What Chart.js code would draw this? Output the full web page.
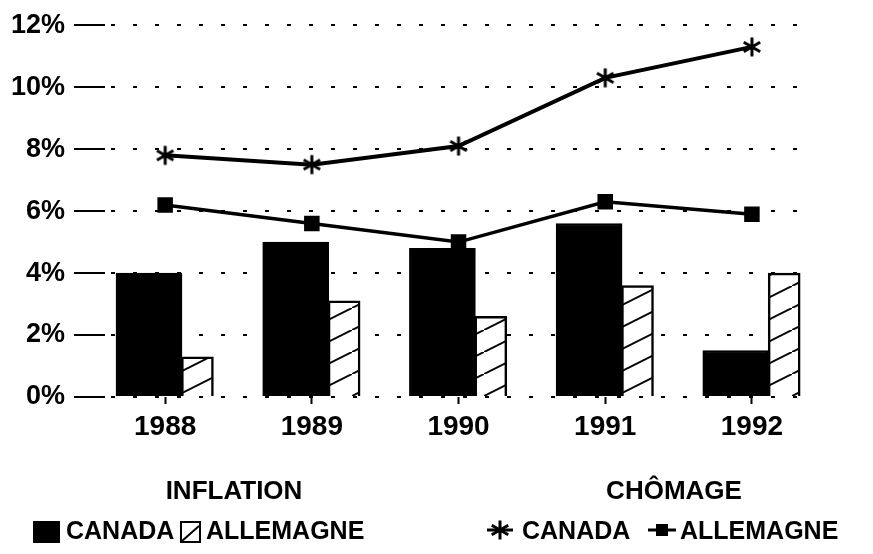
<!DOCTYPE html>
<html lang="fr">
<head>
<meta charset="utf-8">
<title>Inflation et chômage : Canada et Allemagne, 1988-1992</title>
<script src="https://cdn.jsdelivr.net/npm/chart.js@4.4.1/dist/chart.umd.min.js"></script>
<style>
	html, body { margin: 0; padding: 0; background: #fff; }
	#cadre { position: relative; width: 873px; height: 554px; }
</style>
</head>
<body>
<div id="cadre"><canvas id="graphique"></canvas></div>
<script>
const annees = ['1988', '1989', '1990', '1991', '1992'];
const inflationCanada = [4.0, 5.0, 4.8, 5.6, 1.5];
const inflationAllemagne = [1.3, 3.1, 2.6, 3.6, 4.0];
const chomageCanada = [7.8, 7.5, 8.1, 10.3, 11.3];
const chomageAllemagne = [6.2, 5.6, 5.0, 6.3, 5.9];
const graduations = [0, 2, 4, 6, 8, 10, 12];
const groupes = ['INFLATION', 'CHÔMAGE'];

const POLICE = '"Liberation Sans", Arial, Helvetica, sans-serif';

// les barres noires sont larges et décalées à gauche de l'année, les hachurées à droite
const decalageNoir = -0.11;
const decalageHachure = 0.22;

function hachures() {
	const c = document.createElement('canvas');
	c.width = 44;
	c.height = 22;
	const g = c.getContext('2d');
	g.fillStyle = '#fff';
	g.fillRect(0, 0, 44, 22);
	g.strokeStyle = '#000';
	g.lineWidth = 2;
	g.beginPath();
	g.moveTo(-4, 24);
	g.lineTo(48, -2);
	g.stroke();
	return g.createPattern(c, 'repeat');
}

// astérisque à six branches pour le Canada
function etoile(taille) {
	const c = document.createElement('canvas');
	c.width = taille;
	c.height = taille;
	const g = c.getContext('2d');
	const m = taille / 2;
	const r = taille / 2 - 1.5;
	g.strokeStyle = '#000';
	g.lineWidth = 3;
	g.beginPath();
	for (let k = 0; k < 3; k++) {
		const a = Math.PI / 2 + k * Math.PI / 3;
		g.moveTo(m + r * Math.cos(a), m + r * Math.sin(a));
		g.lineTo(m - r * Math.cos(a), m - r * Math.sin(a));
	}
	g.stroke();
	return c;
}

const motif = hachures();
const imageEtoile = etoile(22);

const legendeDouble = {
	id: 'legendeDouble',
	afterDraw(chart) {
		const ctx = chart.ctx;
		const ds = chart.data.datasets;
		ctx.save();
		ctx.fillStyle = '#000';
		ctx.strokeStyle = '#000';
		ctx.textBaseline = 'middle';

		ctx.font = 'bold 26px ' + POLICE;
		ctx.textAlign = 'center';
		ctx.fillText(groupes[0], 234, 492);
		ctx.fillText(groupes[1], 674, 492);

		ctx.font = 'bold 25px ' + POLICE;
		ctx.textAlign = 'left';
		const y = 532;

		// inflation : carré noir, carré hachuré
		ctx.fillRect(33, y - 11, 27, 22);
		ctx.fillText(ds[2].label, 66, y);
		ctx.fillStyle = '#fff';
		ctx.fillRect(181, y - 10, 19, 20);
		ctx.lineWidth = 2;
		ctx.strokeRect(181, y - 10, 19, 20);
		ctx.beginPath();
		ctx.moveTo(182, y + 9);
		ctx.lineTo(199, y - 6);
		ctx.stroke();
		ctx.fillStyle = '#000';
		ctx.fillText(ds[3].label, 206, y);

		// chômage : étoile, trait avec carré
		ctx.lineWidth = 3;
		ctx.beginPath();
		ctx.moveTo(487, y - 2);
		ctx.lineTo(513, y - 2);
		ctx.stroke();
		ctx.drawImage(imageEtoile, 489, y - 13);
		ctx.fillText(ds[0].label, 522, y);
		ctx.beginPath();
		ctx.moveTo(648, y - 2);
		ctx.lineTo(676, y - 2);
		ctx.stroke();
		ctx.fillRect(656, y - 8, 12, 12);
		ctx.fillText(ds[1].label, 680, y);
		ctx.restore();
	}
};

const config = {
	data: {
		datasets: [
			{
				type: 'line',
				label: 'CANADA',
				data: chomageCanada.map((v, i) => ({ x: i, y: v })),
				borderColor: '#000',
				borderWidth: 4,
				pointStyle: imageEtoile,
				pointRadius: 11,
				order: 1,
			},
			{
				type: 'line',
				label: 'ALLEMAGNE',
				data: chomageAllemagne.map((v, i) => ({ x: i, y: v })),
				borderColor: '#000',
				backgroundColor: '#000',
				borderWidth: 3.5,
				pointStyle: 'rect',
				pointRadius: 8.5,
				order: 1,
			},
			{
				type: 'bar',
				label: 'CANADA',
				data: inflationCanada.map((v, i) => ({ x: i + decalageNoir, y: v })),
				backgroundColor: '#000',
				borderColor: '#000',
				borderWidth: 2,
				barThickness: 66,
				grouped: false,
				order: 2,
			},
			{
				type: 'bar',
				label: 'ALLEMAGNE',
				data: inflationAllemagne.map((v, i) => ({ x: i + decalageHachure, y: v })),
				backgroundColor: motif,
				borderColor: '#000',
				borderWidth: 2.5,
				barThickness: 32,
				grouped: false,
				order: 2,
			},
		],
	},
	options: {
		responsive: true,
		maintainAspectRatio: false,
		animation: false,
		layout: {
			padding: { left: 0, top: 19, right: 58, bottom: 107 },
		},
		plugins: {
			legend: { display: false },
			tooltip: { enabled: false },
		},
		scales: {
			x: {
				type: 'linear',
				min: -0.41,
				max: 4.43,
				offset: false,
				afterBuildTicks: (scale) => {
					scale.ticks = annees.map((a, i) => ({ value: i }));
				},
				afterFit: (scale) => {
					scale.height = 50;
				},
				ticks: {
					callback: (v) => annees[v],
					color: '#000',
					font: { family: POLICE, size: 28, weight: 'bold' },
					padding: 6,
					maxRotation: 0,
					autoSkip: false,
				},
				grid: {
					offset: false,
					drawOnChartArea: false,
					tickLength: 7,
					tickWidth: 2,
					tickColor: '#000',
				},
				border: { display: false },
			},
			y: {
				min: 0,
				max: 12,
				afterBuildTicks: (scale) => {
					scale.ticks = graduations.map((v) => ({ value: v }));
				},
				afterFit: (scale) => {
					scale.width = 105;
				},
				ticks: {
					callback: (v) => v + '%',
					color: '#000',
					font: { family: POLICE, size: 27, weight: 'bold' },
					padding: 9,
				},
				grid: {
					color: '#000',
					lineWidth: 2,
					tickLength: 31,
					tickWidth: 2,
					tickColor: '#000',
					tickBorderDash: [],
				},
				border: { display: false, dash: [4, 18], dashOffset: -6 },
			},
		},
	},
	plugins: [legendeDouble],
};

new Chart(document.getElementById('graphique'), config);
</script>
</body>
</html>
